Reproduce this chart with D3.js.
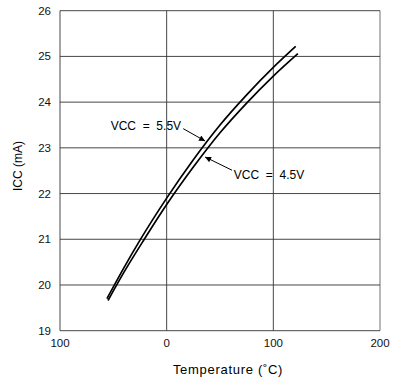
<!DOCTYPE html>
<html>
<head>
<meta charset="utf-8">
<script src="https://cdn.jsdelivr.net/npm/d3@7"></script>
<style>
  body { margin: 0; background: #fff; }
  svg { display: block; font-family: "Liberation Sans", Arial, sans-serif; }
  .grid line { stroke: #333; stroke-width: 0.9; }
  .tick-label { font-size: 11.5px; fill: #111; }
</style>
</head>
<body>
<script>
// ICC vs temperature, two supply voltages
var temps55 = [-56, -40, -25, 0, 25, 50, 75, 100, 121];
var icc55   = [19.7, 20.38, 20.98, 21.9, 22.74, 23.5, 24.16, 24.76, 25.22];

var temps45 = [-55, -40, -21, 0, 25, 50, 75, 100, 123];
var icc45   = [19.66, 20.28, 21.0, 21.76, 22.58, 23.33, 23.98, 24.57, 25.06];

var xTicks = [-100, 0, 100, 200];
var xTickLabels = ["100", "0", "100", "200"];   // the scan drops the minus sign
var yTicks = [19, 20, 21, 22, 23, 24, 25, 26];

// annotations: text anchor point + arrow from/to, in data units
var notes = [
    { text: "VCC  =  5.5V", at: [13.5, 23.39], anchor: "end",   from: [15.5, 23.42], to: [36, 23.15] },
    { text: "VCC  =  4.5V", at: [63, 22.31],   anchor: "start", from: [61.3, 22.51], to: [36, 22.8] }
];

var width = 401, height = 380;

var x = d3.scaleLinear().domain([-100, 200]).range([60, 380]);
var y = d3.scaleLinear().domain([19, 26]).range([330.7, 10.7]);

var svg = d3.select("body").append("svg")
    .attr("width", width)
    .attr("height", height);

svg.append("defs").append("marker")
    .attr("id", "arrow")
    .attr("viewBox", "0 0 10 10")
    .attr("refX", 10)
    .attr("refY", 5)
    .attr("markerWidth", 9)
    .attr("markerHeight", 6)
    .attr("markerUnits", "userSpaceOnUse")
    .attr("orient", "auto")
    .append("path")
    .attr("d", "M0,0L10,5L0,10z")
    .attr("fill", "#000");

// grid + frame
var grid = svg.append("g").attr("class", "grid");

grid.selectAll(".hline")
    .data(yTicks)
    .enter().append("line")
    .attr("class", "hline")
    .attr("x1", x(-100))
    .attr("x2", x(200))
    .attr("y1", function(d) { return y(d); })
    .attr("y2", function(d) { return y(d); });

grid.selectAll(".vline")
    .data(xTicks)
    .enter().append("line")
    .attr("class", "vline")
    .attr("x1", function(d) { return x(d); })
    .attr("x2", function(d) { return x(d); })
    .attr("y1", y(26))
    .attr("y2", y(19))
    .style("stroke-width", function(d) { return d === 200 ? 0.7 : 0.9; });

// tick labels
svg.selectAll(".ylab")
    .data(yTicks)
    .enter().append("text")
    .attr("class", "tick-label")
    .attr("x", 51)
    .attr("y", function(d) { return y(d); })
    .attr("dy", "0.35em")
    .attr("text-anchor", "end")
    .text(function(d) { return d; });

svg.selectAll(".xlab")
    .data(xTicks)
    .enter().append("text")
    .attr("class", "tick-label")
    .attr("x", function(d) { return x(d); })
    .attr("y", y(19) + 16)
    .attr("text-anchor", "middle")
    .text(function(d, i) { return xTickLabels[i]; });

// axis titles
svg.append("text")
    .attr("x", 228)
    .attr("y", 374)
    .attr("text-anchor", "middle")
    .style("font-size", "13px")
    .style("letter-spacing", "0.7px")
    .text("Temperature (˚C)");

svg.append("text")
    .attr("transform", "translate(22,166) rotate(-90)")
    .attr("text-anchor", "middle")
    .style("font-size", "12px")
    .text("ICC (mA)");

// curves
var line = d3.line()
    .x(function(d) { return x(d[0]); })
    .y(function(d) { return y(d[1]); })
    .curve(d3.curveMonotoneX);

[[temps55, icc55], [temps45, icc45]].forEach(function(s) {
    svg.append("path")
        .datum(d3.zip(s[0], s[1]))
        .attr("fill", "none")
        .attr("stroke", "#000")
        .attr("stroke-width", 1.7)
        .attr("d", line);
});

// annotations
notes.forEach(function(n) {
    svg.append("text")
        .attr("x", x(n.at[0]))
        .attr("y", y(n.at[1]))
        .attr("text-anchor", n.anchor)
        .style("font-size", "12px")
        .style("white-space", "pre")
        .attr("xml:space", "preserve")
        .text(n.text);
    svg.append("line")
        .attr("x1", x(n.from[0]))
        .attr("y1", y(n.from[1]))
        .attr("x2", x(n.to[0]))
        .attr("y2", y(n.to[1]))
        .attr("stroke", "#000")
        .attr("stroke-width", 1)
        .attr("marker-end", "url(#arrow)");
});
</script>
</body>
</html>
